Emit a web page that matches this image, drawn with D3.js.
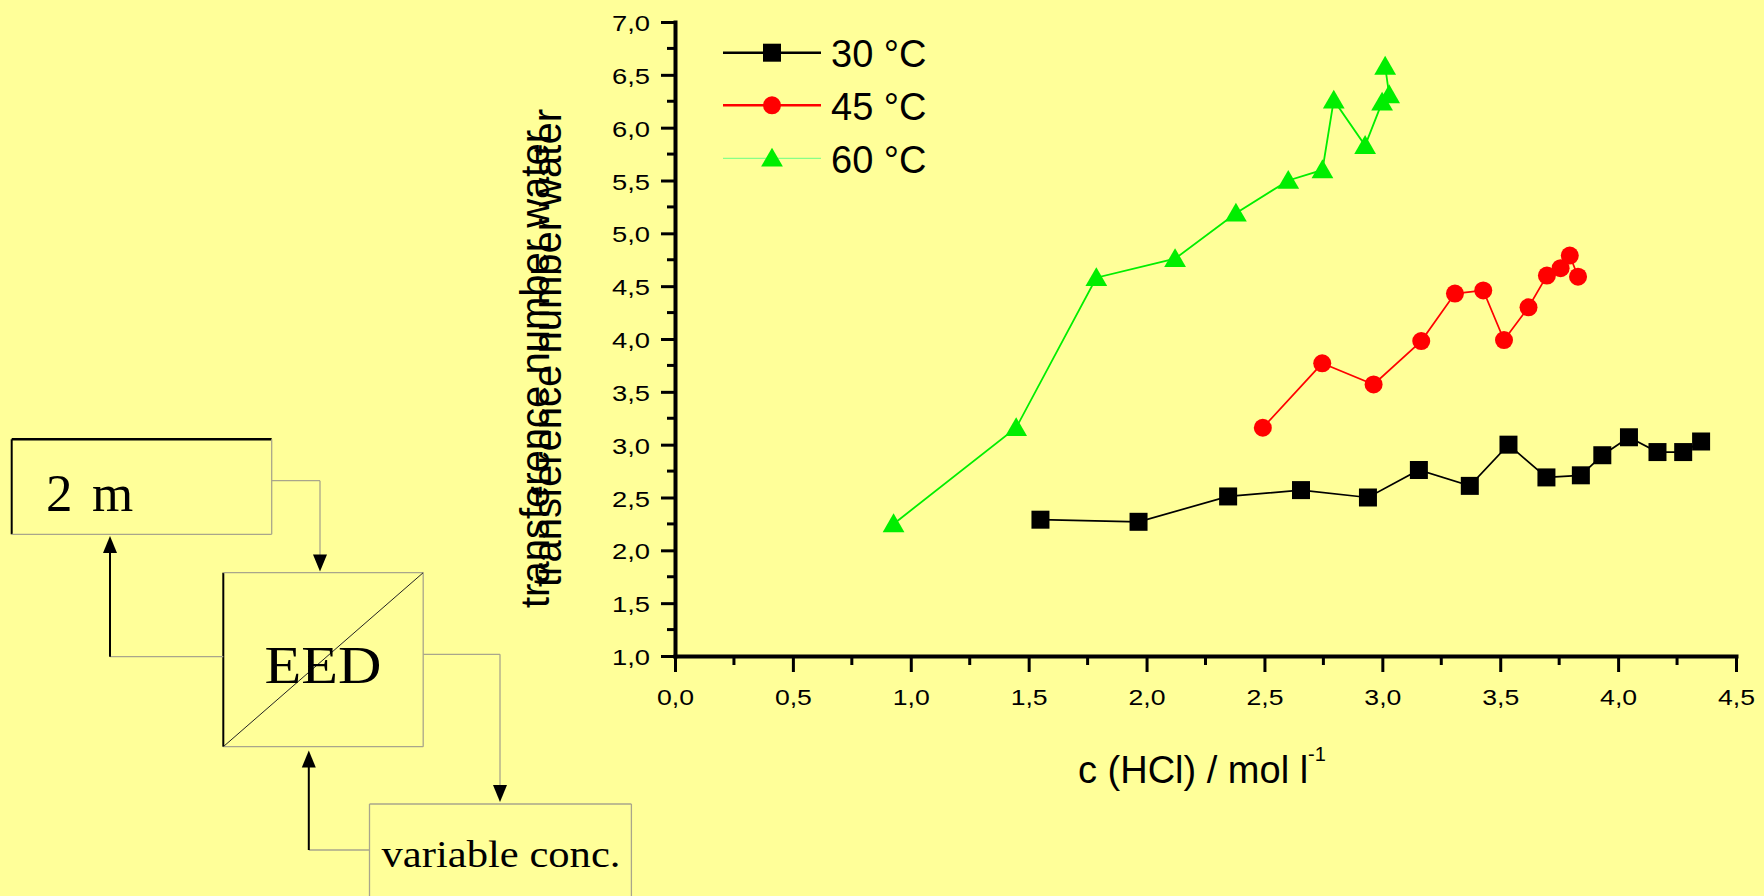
<!DOCTYPE html>
<html><head><meta charset="utf-8">
<script src="https://cdn.jsdelivr.net/npm/d3@7"></script>
<style>html,body{margin:0;padding:0;background:#ffff99;overflow:hidden}</style>
</head><body>
<svg id="c" width="1764" height="896" xmlns="http://www.w3.org/2000/svg"></svg>
<script>
// ---------- data ----------
const seriesNames = ["30 °C", "45 °C", "60 °C"];
const seriesColors = ["#000000", "#ff0000", "#00ee00"];

const x30 = [1.55, 1.966, 2.346, 2.655, 2.939, 3.155, 3.371, 3.535, 3.696, 3.842, 3.933, 4.046, 4.167, 4.276, 4.352];
const y30 = [2.29, 2.27, 2.51, 2.57, 2.50, 2.76, 2.61, 3.00, 2.69, 2.71, 2.90, 3.07, 2.93, 2.93, 3.03];

const x45 = [2.493, 2.745, 2.963, 3.165, 3.308, 3.428, 3.516, 3.62, 3.698, 3.756, 3.795, 3.83];
const y45 = [3.16, 3.77, 3.57, 3.98, 4.43, 4.46, 3.99, 4.30, 4.60, 4.67, 4.79, 4.59];

const x60 = [0.927, 1.447, 1.787, 2.121, 2.379, 2.601, 2.746, 2.794, 2.927, 2.999, 3.029, 3.012];
const y60 = [2.25, 3.16, 4.58, 4.76, 5.19, 5.50, 5.60, 6.26, 5.83, 6.24, 6.31, 6.58];

const xTicks = [0, 0.5, 1, 1.5, 2, 2.5, 3, 3.5, 4, 4.5];
const xTickLabels = ["0,0","0,5","1,0","1,5","2,0","2,5","3,0","3,5","4,0","4,5"];
const yTicks = [1, 1.5, 2, 2.5, 3, 3.5, 4, 4.5, 5, 5.5, 6, 6.5, 7];
const yTickLabels = ["1,0","1,5","2,0","2,5","3,0","3,5","4,0","4,5","5,0","5,5","6,0","6,5","7,0"];
const xMinor = [0.25, 0.75, 1.25, 1.75, 2.25, 2.75, 3.25, 3.75, 4.25];
const yMinor = [1.25, 1.75, 2.25, 2.75, 3.25, 3.75, 4.25, 4.75, 5.25, 5.75, 6.25, 6.75];

const xTitle = "c (HCl) / mol l";
const xTitleSup = "-1";
const yTitle = "transference number water";

// ---------- chart ----------
const svg = d3.select("#c");
svg.append("rect").attr("width", 1764).attr("height", 896).attr("fill", "#ffff99");

const x = d3.scaleLinear().domain([0, 4.5]).range([675, 1736]);
const y = d3.scaleLinear().domain([1, 7]).range([656, 22]);

const SANS = "'Liberation Sans', Arial, sans-serif";
const SERIF = "'Liberation Serif', 'Times New Roman', serif";

// X axis
const gx = svg.append("g").attr("transform", "translate(0,656)")
  .call(d3.axisBottom(x).tickValues(xTicks).tickFormat((d, i) => xTickLabels[i])
    .tickSizeInner(16).tickSizeOuter(0));
gx.select(".domain").attr("stroke-width", 4).attr("stroke-linecap", "square");
gx.selectAll(".tick line").attr("stroke-width", 3);
gx.selectAll(".tick text").attr("y", 49).attr("dy", 0)
  .attr("font-family", SANS).attr("font-size", 22).attr("fill", "#000")
  .attr("textLength", 37).attr("lengthAdjust", "spacingAndGlyphs");
gx.selectAll(".minor").data(xMinor).enter().append("line")
  .attr("x1", d => x(d)).attr("x2", d => x(d)).attr("y1", 0).attr("y2", 9)
  .attr("stroke", "#000").attr("stroke-width", 3);

// Y axis
const gy = svg.append("g").attr("transform", "translate(675,0)")
  .call(d3.axisLeft(y).tickValues(yTicks).tickFormat((d, i) => yTickLabels[i])
    .tickSizeInner(14).tickSizeOuter(0));
gy.select(".domain").attr("stroke-width", 4).attr("stroke-linecap", "square");
gy.selectAll(".tick line").attr("stroke-width", 3);
gy.selectAll(".tick text").attr("x", -25).attr("dy", 0).attr("y", 8.5)
  .attr("font-family", SANS).attr("font-size", 21.5).attr("fill", "#000")
  .attr("textLength", 38).attr("lengthAdjust", "spacingAndGlyphs");
gy.selectAll(".minor").data(yMinor).enter().append("line")
  .attr("y1", d => y(d)).attr("y2", d => y(d)).attr("x1", 0).attr("x2", -8)
  .attr("stroke", "#000").attr("stroke-width", 3);

// axis titles
const xt = svg.append("text").attr("x", 1078).attr("y", 783)
  .attr("font-family", SANS).attr("font-size", 38).attr("fill", "#000");
xt.append("tspan").text(xTitle);
xt.append("tspan").attr("font-size", 20).attr("dy", -22).text(xTitleSup);

[[549, 369], [561, 348]].forEach(([tx, ty]) => {
  svg.append("text").attr("transform", `translate(${tx},${ty}) rotate(-90)`)
    .attr("text-anchor", "middle").attr("font-family", SANS).attr("font-size", 40)
    .attr("fill", "#000").text(yTitle);
});

// series
const allData = [
  x30.map((v, i) => ({x: v, y: y30[i]})),
  x45.map((v, i) => ({x: v, y: y45[i]})),
  x60.map((v, i) => ({x: v, y: y60[i]}))
];
const symbols = [d3.symbolSquare, d3.symbolCircle, d3.symbolTriangle];
const symSizes = [18 * 18, Math.PI * 9 * 9, 205];
const line = d3.line().x(d => x(d.x)).y(d => y(d.y));

allData.forEach((data, si) => {
  svg.append("path").datum(data).attr("d", line).attr("fill", "none")
    .attr("stroke", seriesColors[si]).attr("stroke-width", si === 2 ? 1.8 : 1.7);
});
allData.forEach((data, si) => {
  svg.append("g").selectAll("path").data(data).enter().append("path")
    .attr("d", d3.symbol().type(symbols[si]).size(symSizes[si]))
    .attr("transform", d => `translate(${x(d.x)},${y(d.y) + (si === 2 ? 2 : 0)})`)
    .attr("fill", seriesColors[si]);
});

// legend
const legY = [52.7, 105.3, 158.3];
const legLineColors = ["#000000", "#ff0000", "#88ff88"];
const legLineW = [2.4, 2.6, 1.2];
seriesNames.forEach((name, i) => {
  const g = svg.append("g").attr("transform", `translate(0,${legY[i]})`);
  g.append("line").attr("x1", 723).attr("x2", 821).attr("y1", 0).attr("y2", 0)
    .attr("stroke", legLineColors[i]).attr("stroke-width", legLineW[i]);
  g.append("path").attr("d", d3.symbol().type(symbols[i]).size(symSizes[i])())
    .attr("transform", `translate(772,${i === 2 ? 2 : 0})`).attr("fill", seriesColors[i]);
  g.append("text").attr("x", 831).attr("y", 14.5).attr("font-family", SANS)
    .attr("font-size", 38).attr("fill", "#000").text(name);
});

// ---------- flow diagram (left) ----------
const dg = svg.append("g");
const GRAY = "#a9a68c";
const segs = [
  [11.7, 439.3, 271.7, 439.3, "#000", 2.5],
  [11.7, 439.3, 11.7, 534.3, "#000", 2],
  [11.7, 534.3, 271.7, 534.3, GRAY, 1.3],
  [271.7, 439.3, 271.7, 534.3, GRAY, 1.3],
  [271.7, 480.7, 320, 480.7, GRAY, 1.3],
  [320, 480.7, 320, 556, GRAY, 1.3],
  [223.3, 572.7, 223.3, 746.7, "#000", 2],
  [223.3, 572.7, 423.2, 572.7, GRAY, 1.3],
  [423.2, 572.7, 423.2, 746.7, GRAY, 1.3],
  [223.3, 746.7, 423.2, 746.7, GRAY, 1.3],
  [223.3, 746.7, 423.2, 572.7, "#222", 1],
  [223.3, 656.7, 110, 656.7, GRAY, 1.3],
  [110, 656.7, 110, 552, "#000", 2],
  [423.2, 654.3, 500, 654.3, GRAY, 1.3],
  [500, 654.3, 500, 786, GRAY, 1.3],
  [369.5, 804, 631.4, 804, GRAY, 1.3],
  [369.5, 804, 369.5, 900, GRAY, 1.3],
  [631.4, 804, 631.4, 900, GRAY, 1.3],
  [369.5, 850, 308.8, 850, GRAY, 1.3],
  [308.8, 850, 308.8, 765, "#000", 2]
];
dg.selectAll("line").data(segs).enter().append("line")
  .attr("x1", d => d[0]).attr("y1", d => d[1]).attr("x2", d => d[2]).attr("y2", d => d[3])
  .attr("stroke", d => d[4]).attr("stroke-width", d => d[5]);
const heads = [
  [320, 571.5, 1], [110, 536, -1], [308.8, 750.5, -1], [500, 802, 1]
];
dg.selectAll("path.head").data(heads).enter().append("path").attr("class", "head")
  .attr("d", d => `M${d[0]},${d[1]} L${d[0] - 7},${d[1] - d[2] * 17} L${d[0] + 7},${d[1] - d[2] * 17} Z`)
  .attr("fill", "#000");

dg.append("text").attr("x", 46).attr("y", 511).attr("font-family", SERIF).attr("font-size", 53).text("2");
dg.append("text").attr("x", 92).attr("y", 511).attr("font-family", SERIF).attr("font-size", 53).text("m");
dg.append("text").attr("x", 264.5).attr("y", 683).attr("font-family", SERIF).attr("font-size", 52)
  .attr("textLength", 117).attr("lengthAdjust", "spacingAndGlyphs").text("EED");
dg.append("text").attr("x", 381.5).attr("y", 867).attr("font-family", SERIF).attr("font-size", 38)
  .attr("textLength", 239).attr("lengthAdjust", "spacingAndGlyphs").text("variable conc.");
</script>
</body></html>
